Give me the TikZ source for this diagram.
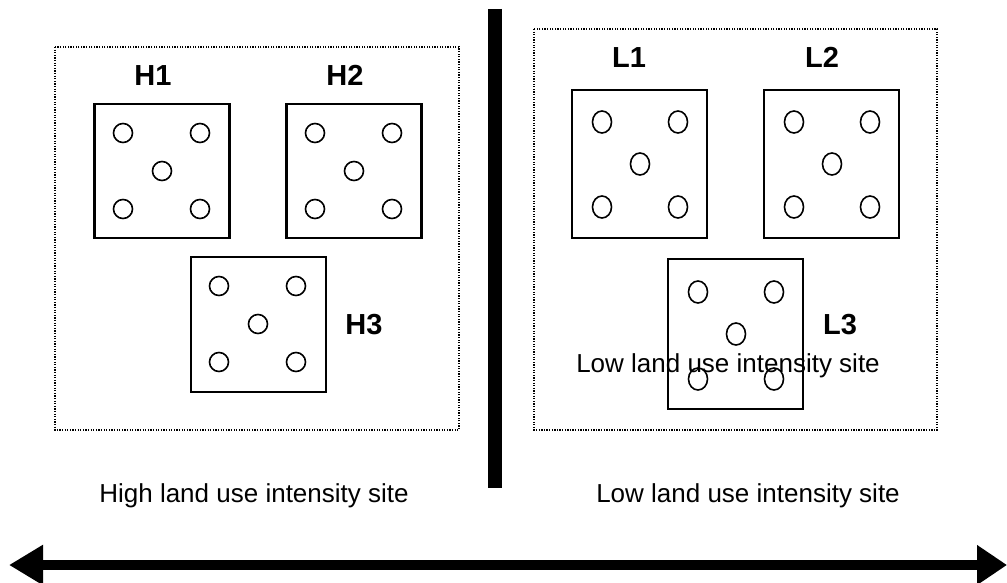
\documentclass[tikz,border=0pt]{standalone}
\usepackage{fontspec}
\setmainfont{Liberation Sans}
\usetikzlibrary{arrows.meta,shapes.geometric}
\begin{document}
\begin{tikzpicture}[x=1pt,y=-1pt,
 frame/.style={draw, line width=1.7pt, dash pattern=on 1.3pt off 1.3pt},
 plot/.style={draw, line width=2.1pt, rectangle, minimum width=135pt, inner sep=0pt},
 hole/.style={draw, circle, line width=1.6pt, minimum size=19pt, inner sep=0pt},
 lhole/.style={draw, ellipse, line width=1.6pt, minimum width=19pt, minimum height=22pt, inner sep=0pt},
 lab/.style={font=\fontsize{29}{32}\selectfont\bfseries, inner sep=0pt, anchor=base},
 txt/.style={font=\fontsize{26}{30}\selectfont, inner sep=0pt, anchor=base}]
\useasboundingbox (0,0) rectangle (1007,583);
% frames
\draw[frame] (55,47) rectangle (459,430);
\draw[frame] (534,29) rectangle (937,430);
% high plots
\node[plot, minimum height=134pt] (H1) at (162,171) {};
\node[plot, minimum height=134pt] (H2) at (354,171) {};
\node[plot, minimum height=135pt] (H3) at (258.5,324.5) {};
\foreach \b/\cx/\cy in {h1/162/171, h2/354/171, h3/258/324} {
  \node[hole] (\b a) at (\cx-39,\cy-38) {};
  \node[hole] (\b b) at (\cx+38,\cy-38) {};
  \node[hole] (\b c) at (\cx,\cy) {};
  \node[hole] (\b d) at (\cx-39,\cy+38) {};
  \node[hole] (\b e) at (\cx+38,\cy+38) {};
}
% low plots
\node[plot, minimum height=148pt] (L1) at (639.5,164) {};
\node[plot, minimum height=148pt] (L2) at (831.5,164) {};
\node[plot, minimum height=150pt] (L3) at (735.5,334) {};
\foreach \b/\cx/\cy/\dt/\db in {l1/640/164/42/43, l2/832/164/42/43, l3/736/334/42/45} {
  \node[lhole] (\b a) at (\cx-38,\cy-\dt) {};
  \node[lhole] (\b b) at (\cx+38,\cy-\dt) {};
  \node[lhole] (\b c) at (\cx,\cy) {};
  \node[lhole] (\b d) at (\cx-38,\cy+\db) {};
  \node[lhole] (\b e) at (\cx+38,\cy+\db) {};
}
% labels
\node[lab] (tH1) at (153,86) {H1};
\node[lab] (tH2) at (345,86) {H2};
\node[lab] (tH3) at (364,334) {H3};
\node[lab] (tL1) at (629,68) {L1};
\node[lab] (tL2) at (822,68) {L2};
\node[lab] (tL3) at (840,334) {L3};
\node[txt] (over) at (728,372) {Low land use intensity site};
\node[txt] (high) at (254,502) {High land use intensity site};
\node[txt] (low) at (748,502) {Low land use intensity site};
% divider
\coordinate (bartop) at (495,9);
\coordinate (barbot) at (495,488);
\draw[line width=14pt] (bartop) -- (barbot);
% gradient arrow
\coordinate (aleft) at (9,565);
\coordinate (aright) at (1007,565);
\draw[line width=10pt, {Triangle[length=34pt,width=38pt]}-{Triangle[length=30pt,width=38pt]}] (aleft) -- (aright);
\end{tikzpicture}
\end{document}
